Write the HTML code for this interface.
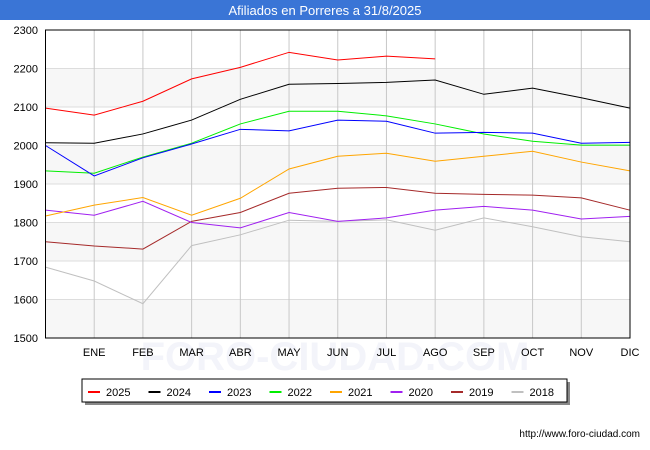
<!DOCTYPE html>
<html><head><meta charset="utf-8"><style>
body{margin:0;background:#fff;font-family:"Liberation Sans",sans-serif}
#c{position:relative;width:650px;height:450px;overflow:hidden}
</style></head><body>
<div id="c">
<svg id="s" width="650" height="450" xmlns="http://www.w3.org/2000/svg" font-family="Liberation Sans, sans-serif"></svg>
</div>
<script>
const months=["","ENE","FEB","MAR","ABR","MAY","JUN","JUL","AGO","SEP","OCT","NOV","DIC"];
const yTicks=[1500,1600,1700,1800,1900,2000,2100,2200,2300];
const seriesNames=["2025","2024","2023","2022","2021","2020","2019","2018"];
const seriesColors=["#ff0000","#000000","#0000ff","#00ee00","#ffa500","#a020f0","#a52a2a","#c0c0c0"];
const s2025=[2097,2079,2115,2173,2203,2242,2222,2232,2225];
const s2024=[2007,2006,2030,2066,2120,2159,2161,2164,2170,2133,2149,2124,2097];
const s2023=[2000,1921,1968,2004,2042,2038,2066,2063,2032,2034,2032,2006,2008];
const s2022=[1934,1928,1970,2006,2056,2089,2089,2077,2056,2030,2011,2001,2001];
const s2021=[1817,1845,1865,1819,1863,1939,1972,1980,1959,1972,1985,1957,1934];
const s2020=[1832,1819,1855,1800,1786,1826,1803,1812,1832,1842,1832,1809,1816];
const s2019=[1750,1739,1731,1803,1826,1876,1889,1891,1876,1873,1871,1864,1832];
const s2018=[1684,1648,1589,1740,1768,1806,1803,1807,1780,1812,1789,1763,1750];
const allSeries=[s2025,s2024,s2023,s2022,s2021,s2020,s2019,s2018];

const L=45.5,R=630,T=30,B=338,ymin=1500,ymax=2300;
const x=i=>L+(R-L)*i/12;
const y=v=>B-(v-ymin)/(ymax-ymin)*(B-T);
const svg=document.getElementById('s');
const NS="http://www.w3.org/2000/svg";
function mk(tag,attrs,parent){const e=document.createElementNS(NS,tag);for(const k in attrs)e.setAttribute(k,attrs[k]);(parent||svg).appendChild(e);return e;}

let e=mk('rect',{x:0,y:0,width:650,height:20,fill:'#3a75d6'});


e=mk('text',{x:325,y:15,'text-anchor':'middle','font-size':13,fill:'#fff'});e.textContent='Afiliados en Porreres a 31/8/2025';



for(let i=0;i<yTicks.length-1;i++){
  if(i%2===0){e=mk('rect',{x:L,y:y(yTicks[i+1]),width:R-L,height:y(yTicks[i])-y(yTicks[i+1]),fill:'#f7f7f7'});
  
  }
}
e=mk('text',{x:335,y:370,'text-anchor':'middle','font-size':40,fill:'#f3f4fa','font-weight':'bold'});e.textContent='FORO-CIUDAD.COM';


yTicks.forEach(v=>{
  e=mk('line',{x1:L,x2:R,y1:y(v),y2:y(v),stroke:'#dddddd'});
  
  
  e=mk('text',{x:38,y:y(v)+4,'text-anchor':'end','font-size':11,fill:'#000'});e.textContent=v;
  
  
});
months.forEach((m,i)=>{
  if(i>0){e=mk('line',{x1:x(i),x2:x(i),y1:T,y2:B,stroke:'#c8c8c8'});
  
  }
  e=mk('text',{x:x(i),y:356,'text-anchor':'middle','font-size':11,fill:'#000'});e.textContent=m;
  
  
});

for(let k=allSeries.length-1;k>=0;k--){
  const pts=allSeries[k].map((v,i)=>x(i)+','+y(v)).join(' ');
  e=mk('polyline',{points:pts,fill:'none',stroke:seriesColors[k],'stroke-width':1});
  
  
}
e=mk('rect',{x:L,y:T,width:R-L,height:B-T,fill:'none',stroke:'#000'});



e=mk('rect',{x:85,y:382,width:485,height:23,fill:'#888'});


e=mk('rect',{x:82,y:379,width:485,height:23,fill:'#fff',stroke:'#000'});


seriesNames.forEach((n,k)=>{
  const lx=88+k*60.5;
  e=mk('line',{x1:lx,x2:lx+12,y1:392,y2:392,stroke:seriesColors[k],'stroke-width':2});
  
  
  e=mk('text',{x:lx+18,y:396,'font-size':11,fill:'#000'});e.textContent=n;
  
  
});
e=mk('text',{x:640,y:437,'text-anchor':'end','font-size':10,fill:'#000'});e.textContent='http://www.foro-ciudad.com';


</script>
</body></html>
